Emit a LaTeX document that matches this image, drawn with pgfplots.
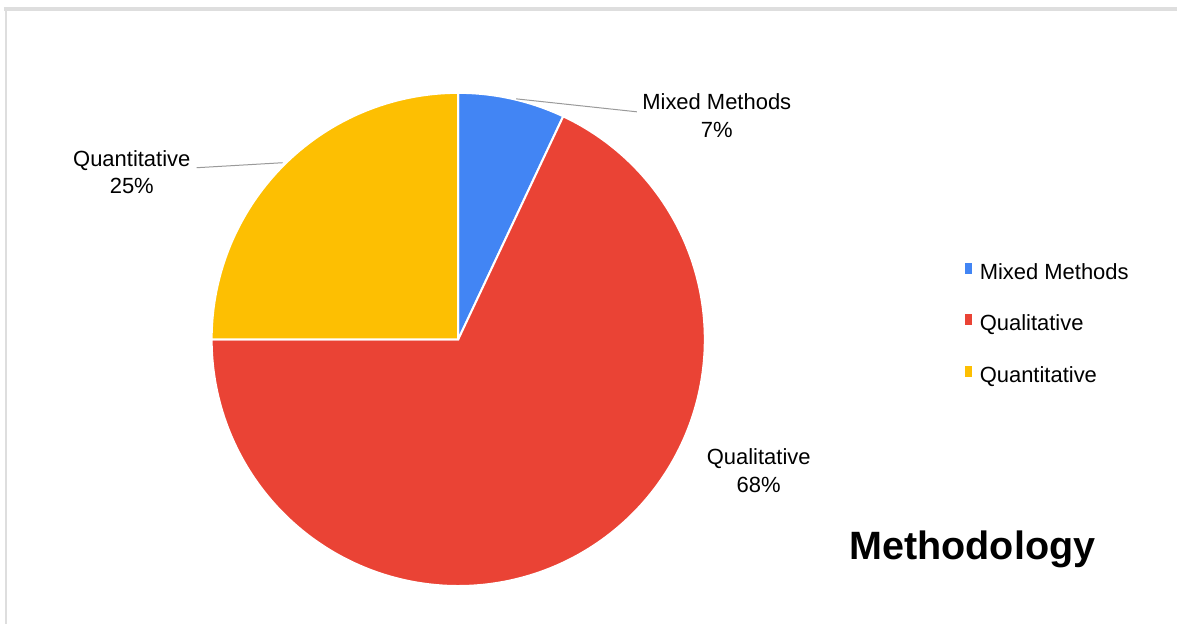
\documentclass[border=0pt]{standalone}
\usepackage{pgfplots}
\pgfplotsset{compat=1.18}
\usepackage{pgfplotstable}
\usepackage{fontspec}
\setmainfont{Liberation Sans}
\definecolor{cMixed}{HTML}{4285F4}
\definecolor{cQual}{HTML}{EA4335}
\definecolor{cQuant}{HTML}{FDBF02}
\definecolor{frame}{HTML}{DEDEDE}
\definecolor{leader}{HTML}{9A9A9A}
\pgfplotstableread{
share
7
68
25
}\piedata
\pgfplotstablegetelem{0}{share}\of\piedata \let\vA\pgfplotsretval
\pgfplotstablegetelem{1}{share}\of\piedata \let\vB\pgfplotsretval
\pgfplotstablegetelem{2}{share}\of\piedata \let\vC\pgfplotsretval
\pgfmathsetmacro{\aA}{90}
\pgfmathsetmacro{\aB}{90-3.6*\vA}
\pgfmathsetmacro{\aC}{\aB-3.6*\vB}
\pgfmathsetmacro{\aD}{\aC-3.6*\vC}
\def\cx{459}
\def\cy{285}
\def\rr{247}
\pgfplotsset{sq/.style={legend image code/.code={\path (0pt,0pt) rectangle (3.2pt,5.6pt); \fill[#1] (0pt,2.4pt) rectangle (3.2pt,5.6pt);}}}
\begin{document}
\begin{tikzpicture}
\begin{axis}[
  x=0.5pt, y=0.5pt, xmin=0, xmax=1179, ymin=0, ymax=625,
  hide axis, clip=false,
  legend cell align=left,
  legend style={draw=none, fill=none, at={(axis cs:967,362)}, anchor=north west,
    inner sep=0pt, outer sep=0pt, row sep=15pt, column sep=0pt,
    /tikz/every odd column/.append style={column sep=4pt},
    nodes={inner sep=0pt, outer sep=0pt, text height=8pt, text depth=2.5pt, font=\fontsize{11}{13}\selectfont}},
]
\fill[white] (axis cs:0,0) rectangle (axis cs:1179,625);
\draw[frame, line width=2pt] (axis cs:4,616) -- (axis cs:1179,616);
\draw[frame, line width=1.25pt] (axis cs:6,0) -- (axis cs:6,617);

\addplot[forget plot, fill=cMixed, draw=white, line width=1pt, domain=\aB:\aA, samples=30]
  ({\cx+\rr*cos(x)},{\cy+\rr*sin(x)}) -- (axis cs:\cx,\cy) -- cycle;
\addplot[forget plot, fill=cQual, draw=white, line width=1pt, domain=\aC:\aB, samples=200]
  ({\cx+\rr*cos(x)},{\cy+\rr*sin(x)}) -- (axis cs:\cx,\cy) -- cycle;
\addplot[forget plot, fill=cQuant, draw=white, line width=1pt, domain=\aD:\aC, samples=80]
  ({\cx+\rr*cos(x)},{\cy+\rr*sin(x)}) -- (axis cs:\cx,\cy) -- cycle;

\addlegendimage{sq, fill=cMixed, draw=none}
\addlegendentry{Mixed Methods}
\addlegendimage{sq, fill=cQual, draw=none}
\addlegendentry{Qualitative}
\addlegendimage{sq, fill=cQuant, draw=none}
\addlegendentry{Quantitative}

% leader lines
\draw[leader, line width=0.5pt] (axis cs:517,526) -- (axis cs:638,513);
\draw[leader, line width=0.5pt] (axis cs:283,462) -- (axis cs:197,457);

% slice labels
\tikzset{lbl/.style={anchor=base, inner sep=0pt, font=\fontsize{11}{13}\selectfont}}
\node[lbl] at (axis cs:718,515) {Mixed Methods};
\node[lbl] at (axis cs:718,487) {7\%};
\node[lbl] at (axis cs:132,458) {Quantitative};
\node[lbl] at (axis cs:132,431) {25\%};
\node[lbl] at (axis cs:760,160) {Qualitative};
\node[lbl] at (axis cs:760,132) {68\%};

% title
\node[anchor=base, inner sep=0pt, font=\fontsize{19.8}{23}\selectfont\bfseries] at (axis cs:974,65) {Methodology};
\end{axis}
\end{tikzpicture}
\end{document}
